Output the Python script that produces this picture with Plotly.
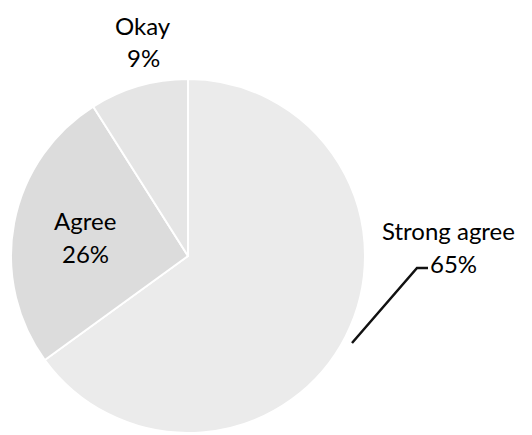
import plotly.graph_objects as go

# ---- data ----
labels = ["Strong agree", "Agree", "Okay"]
values = [65, 26, 9]
colors = ["#ebebeb", "#dcdcdc", "#e5e5e5"]

W, H = 532, 435
cx, cy, r = 188, 256, 177

def px(x):
    return x / W

def py(y):
    return 1 - y / H

total = sum(values)
pcts = [f"{round(v * 100 / total)}%" for v in values]

fig = go.Figure(go.Pie(
    labels=labels,
    values=values,
    sort=False,
    direction="clockwise",
    rotation=0,
    marker=dict(colors=colors, line=dict(color="white", width=2)),
    textinfo="none",
    hoverinfo="label+percent",
    showlegend=False,
    domain=dict(x=[px(cx - r), px(cx + r)], y=[py(cy + r), py(cy - r)]),
))

font = dict(family="Lato, Carlito, Calibri, sans-serif", size=24, color="#000000")
# label positions (pixel centres of the two text lines)
label_pos = {
    "Strong agree": ((448, 230), (453, 263)),
    "Agree": ((85, 220), (85, 253)),
    "Okay": ((143, 25), (143, 58)),
}
ann = []
for lab, pc in zip(labels, pcts):
    (x1, y1), (x2, y2) = label_pos[lab]
    ann.append(dict(x=px(x1), y=py(y1), xref="paper", yref="paper", text=lab,
                    showarrow=False, font=font, xanchor="center", yanchor="middle"))
    ann.append(dict(x=px(x2), y=py(y2), xref="paper", yref="paper", text=pc,
                    showarrow=False, font=font, xanchor="center", yanchor="middle"))

leader = f"M {px(352)} {py(343)} L {px(417)} {py(268)} L {px(428)} {py(268)}"

fig.update_layout(
    width=W, height=H,
    margin=dict(l=0, r=0, t=0, b=0),
    paper_bgcolor="white",
    plot_bgcolor="white",
    annotations=ann,
    shapes=[dict(type="path", path=leader, xref="paper", yref="paper",
                 line=dict(color="#111111", width=2.5))],
)

fig.write_html("out.html")
